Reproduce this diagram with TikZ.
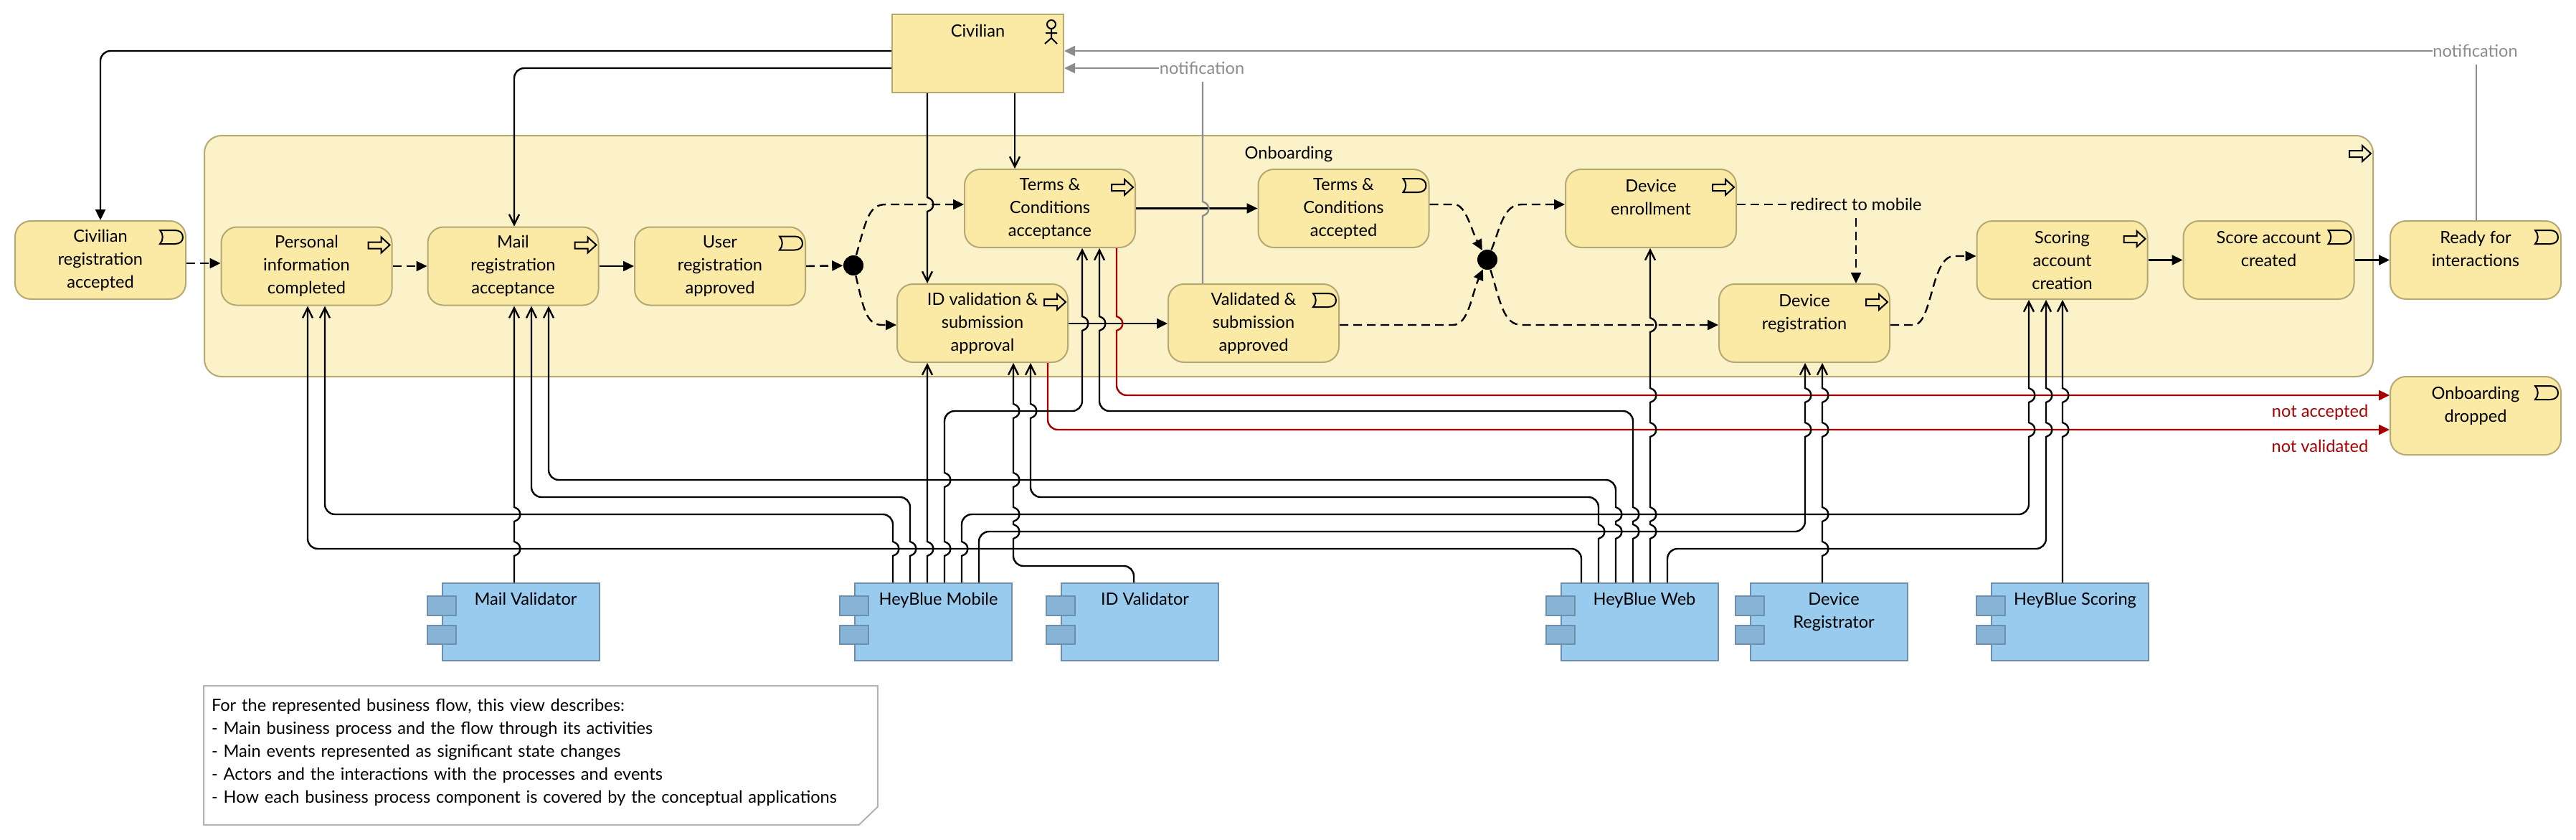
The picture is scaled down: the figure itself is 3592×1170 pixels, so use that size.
\documentclass[tikz,border=0pt]{standalone}
\usepackage{fontspec}
\setmainfont{Lato}
\usetikzlibrary{shapes.geometric, arrows.meta, positioning, calc}

\definecolor{bizfill}{HTML}{FBE9A6}
\definecolor{bizline}{HTML}{B5A873}
\definecolor{grpfill}{HTML}{FBF2C9}
\definecolor{appfill}{HTML}{98CBED}
\definecolor{appline}{HTML}{6B8FAD}
\definecolor{tabfill}{HTML}{87B3D4}
\definecolor{notifgrey}{HTML}{8C8C8C}
\definecolor{dropred}{HTML}{A80000}

% vertical line hopping over a horizontal one, going up / going down
\newcommand{\hopup}[2]{[sharp corners] -- (#1,#2+10) -- (#1+4,#2+8) .. controls (#1+10,#2+4) and (#1+10,#2-4) .. (#1+4,#2-8) -- (#1,#2-10) [rounded corners=3.5pt]}
\newcommand{\hopdn}[2]{[sharp corners] -- (#1,#2-10) -- (#1+4,#2-8) .. controls (#1+10,#2-4) and (#1+10,#2+4) .. (#1+4,#2+8) -- (#1,#2+10) [rounded corners=3.5pt]}
\newcommand{\shf}{\hspace*{3.5pt}}

\tikzset{
  procicon/.pic={
    \draw[black, line width=.5pt, line join=miter]
      (-34,22) -- (-16,22) -- (-16,15) -- (-4,26) -- (-16,37) -- (-16,31) -- (-34,31) -- cycle;
  },
  evticon/.pic={
    \draw[black, line width=.5pt]
      (-37,14) -- (-16,14) .. controls (-9,14) and (-5,18) .. (-5,24)
      .. controls (-5,29) and (-9,33) .. (-16,33) -- (-37,33)
      .. controls (-32,28) and (-32,19) .. (-37,14) -- cycle;
  },
  actoricon/.pic={
    \draw[black, line width=.5pt]
      (-18,15) circle [radius=6]
      (-18,21) -- (-18,34)
      (-26,27) -- (-10,27)
      (-27,42) -- (-18,34) -- (-10,42);
  },
  apptabs/.pic={
    \draw[appline, fill=tabfill, line width=.5pt] (-20,19) rectangle (20,46);
    \draw[appline, fill=tabfill, line width=.5pt] (-20,60) rectangle (20,86);
  },
}

\begin{document}
\begin{tikzpicture}[
  x=.25pt, y=-.25pt,
  every node/.style={font=\fontsize{5.9}{8}\selectfont},
  grp/.style={
    rectangle, rounded corners=6pt,
    draw=bizline, fill=grpfill, line width=.5pt,
    minimum width=756pt, minimum height=84pt},
  biz/.style={
    rectangle, rounded corners=5.5pt,
    draw=bizline, fill=bizfill, line width=.5pt,
    minimum width=59.5pt, minimum height=27.25pt,
    align=center, inner sep=0pt},
  actor/.style={
    rectangle,
    draw=bizline, fill=bizfill, line width=.5pt,
    minimum width=59.75pt, minimum height=27.25pt,
    align=center, inner sep=0pt},
  appl/.style={
    rectangle,
    draw=appline, fill=appfill, line width=.5pt,
    minimum width=54.75pt, minimum height=27pt,
    align=center, inner sep=0pt},
  memo/.style={
    rectangle, minimum width=234.5pt, minimum height=48pt,
    text width=229.5pt, align=left, inner sep=0pt},
  memoline/.style={draw=black!30, line width=.5pt},
  dot/.style={circle, fill=black, minimum size=7pt, inner sep=0pt},
  lbl/.style={inner sep=0pt, minimum height=9pt},
  trig/.style={
    -{Triangle[length=3.75pt,width=3.5pt]},
    draw=black, line width=.6pt, rounded corners=3.5pt},
  flow/.style={
    -{Triangle[length=3.75pt,width=3.5pt]},
    draw=black, line width=.6pt, dash pattern=on 3pt off 1.75pt},
  assign/.style={
    -{Straight Barb[length=3.5pt,width=3.5pt]},
    draw=black, line width=.6pt, rounded corners=3.5pt},
  drop/.style={
    -{Triangle[length=3.75pt,width=3.5pt]},
    draw=dropred, line width=.6pt, rounded corners=3.5pt},
  notif/.style={draw=notifgrey, line width=.6pt},
]

\useasboundingbox (0,0) rectangle (3592,1170);

\node[grp] (onboarding) at (1797,357) {};
\node[anchor=north] (onbtitle) at (1797,190) {Onboarding};
\pic at (onboarding.north east) {procicon};

\node[actor] (civilian) at (1363.5,74.5) {Civilian\\~\\~};
\pic at (civilian.north east) {actoricon};

\node[biz] (civacc)   at (140,362.5)    {Civilian\\registration\\accepted};
\node[biz] (personal) at (427.5,371)    {Personal\\information\\completed};
\node[biz] (mail)     at (715.5,371)    {Mail\\registration\\acceptance};
\node[biz] (user)     at (1004,371)     {User\\registration\\approved};
\node[biz] (terms)    at (1464,290.5)   {Terms \&\\Conditions\\acceptance};
\node[biz] (termsok)  at (1873.5,290.5) {Terms \&\\Conditions\\accepted};
\node[biz] (idval)    at (1370,450.5)   {ID validation \&\\submission\\approval};
\node[biz] (valok)    at (1748,450.5)   {Validated \&\\submission\\approved};
\node[biz] (enroll)   at (2302,290.5)   {Device\\enrollment\\~};
\node[biz] (devreg)   at (2516,450.5)   {Device\\registration\\~};
\node[biz] (scoring)  at (2875.5,362.5) {Scoring\\account\\creation};
\node[biz] (scored)   at (3163.5,362.5) {Score account\\created\\~};
\node[biz] (ready)    at (3452,362.5)   {Ready for\\interactions\\~};
\node[biz] (dropped)  at (3452,579.5)   {Onboarding\\dropped\\~};

\pic at (personal.north east) {procicon};
\pic at (mail.north east)     {procicon};
\pic at (terms.north east)    {procicon};
\pic at (idval.north east)    {procicon};
\pic at (enroll.north east)   {procicon};
\pic at (devreg.north east)   {procicon};
\pic at (scoring.north east)  {procicon};
\pic at (civacc.north east)   {evticon};
\pic at (user.north east)     {evticon};
\pic at (termsok.north east)  {evticon};
\pic at (valok.north east)    {evticon};
\pic at (scored.north east)   {evticon};
\pic at (ready.north east)    {evticon};
\pic at (dropped.north east)  {evticon};

\node[dot] (joinA) at (1190,370) {};
\node[dot] (joinB) at (2074,362) {};

\node[appl] (mailval) at (726,867)    {\shf Mail Validator\\~\\~};
\node[appl] (mobile)  at (1301.5,867) {\shf HeyBlue Mobile\\~\\~};
\node[appl] (idvalr)  at (1589.5,867) {\shf ID Validator\\~\\~};
\node[appl] (web)     at (2286,867)   {\shf HeyBlue Web\\~\\~};
\node[appl] (devregr) at (2550,867)   {\shf Device\\\shf Registrator\\~};
\node[appl] (scorer)  at (2886.5,867) {\shf HeyBlue Scoring\\~\\~};

\pic at (mailval.north west) {apptabs};
\pic at (mobile.north west)  {apptabs};
\pic at (idvalr.north west)  {apptabs};
\pic at (web.north west)     {apptabs};
\pic at (devregr.north west) {apptabs};
\pic at (scorer.north west)  {apptabs};

\node[memo] (viewnote) at (754,1053) {For the represented business flow, this view describes:\\
- Main business process and the flow through its activities\\
- Main events represented as significant state changes\\
- Actors and the interactions with the processes and events\\
- How each business process component is covered by the conceptual applications\rule[-3pt]{0pt}{0pt}};
\draw[memoline] (viewnote.south west) -- (viewnote.north west) -- (viewnote.north east)
  -- ($(viewnote.south east)+(0,-25)$) -- ($(viewnote.south east)+(-26,0)$) -- cycle;

\node[lbl, text=notifgrey] (notifA) at (1676,95)   {notification};
\node[lbl, text=notifgrey] (notifB) at (3451.5,71) {notification};
\node[lbl] (redirect) at (2588,285) {redirect to mobile};
\node[text=dropred, anchor=east, inner sep=0pt] (notacc) at (3303,575) {not accepted};
\node[text=dropred, anchor=east, inner sep=0pt] (notval) at (3303,622) {not validated};

% process flow
\draw[flow] (civacc.east |- 0,367) -- (personal.west |- 0,367);
\draw[flow] (personal.east) -- (mail.west);
\draw[trig] (mail.east) -- (user.west);
\draw[flow] (user.east) -- (joinA);
\draw[flow] (joinA) .. controls (1208,305) and (1212,285) .. (1235,285) -- (terms.west |- 0,285);
\draw[flow] (joinA) .. controls (1204,430) and (1208,453) .. (1230,453) -- (idval.west |- 0,453);
\draw[trig] (terms.east) -- (termsok.west);
\draw[trig] (idval.east |- 0,451) -- (valok.west |- 0,451);
\draw[flow] (termsok.east |- 0,285) -- (2028,285) .. controls (2044,285) and (2052,322) .. (joinB);
\draw[flow] (valok.east |- 0,453) -- (2026,453) .. controls (2048,453) and (2052,410) .. (joinB);
\draw[flow] (joinB) .. controls (2092,318) and (2096,285) .. (2122,285) -- (enroll.west |- 0,285);
\draw[flow] (joinB) .. controls (2092,420) and (2096,453) .. (2122,453) -- (devreg.west |- 0,453);
\draw[draw=black, line width=.6pt, dash pattern=on 3pt off 1.75pt] (enroll.east |- redirect) -- (redirect.west);
\draw[flow] (redirect.south) -- (redirect.south |- devreg.north);
\draw[flow] (devreg.east |- 0,453) -- (2668,453) .. controls (2695,453) and (2692,357) .. (2725,357) -- (scoring.west |- 0,357);
\draw[trig] (scoring.east) -- (scored.west);
\draw[trig] (scored.east) -- (ready.west);

% actor
\draw[trig] (civilian.west |- 0,71) -| (civacc.north);
\draw[assign] (civilian.west |- 0,95) -| (717,0 |- mail.north);
\draw[assign] (1415,0 |- civilian.south) -- (1415,0 |- terms.north);
\draw[assign] (1293,0 |- civilian.south) \hopdn{1293}{285} -- (1293,0 |- idval.north);

% notifications
\draw[notif, -{Triangle[length=3.75pt,width=3.5pt]}] (notifA.west) -- (notifA.west -| civilian.east);
\draw[notif] (1677,0 |- valok.north) \hopup{1677}{291} -- (1677,0 |- notifA.south);
\draw[notif, -{Triangle[length=3.75pt,width=3.5pt]}] (notifB.west) -- (notifB.west -| civilian.east);
\draw[notif] (3453,0 |- ready.north) -- (3453,0 |- notifB.south);

% dropped paths
\draw[drop] (1557,0 |- terms.south) \hopdn{1557}{451} -- (1557,551) -- (dropped.west |- 0,551);
\draw[drop] (1461,0 |- idval.south) -- (1461,599) -- (dropped.west |- 0,599);

% application assignments
\draw[assign] (717,0 |- mailval.north) \hopup{717}{765} \hopup{717}{717} -- (717,0 |- mail.south);

\draw[assign] (1245,0 |- mobile.north) \hopup{1245}{765} -- (1245,717) -- (453,717) -- (453,0 |- personal.south);
\draw[assign] (1269,0 |- mobile.north) \hopup{1269}{765} -- (1269,693) -- (741,693) -- (741,0 |- mail.south);
\draw[assign] (1293,0 |- mobile.north) \hopup{1293}{765} -- (1293,0 |- idval.south);
\draw[assign] (1317,0 |- mobile.north) \hopup{1317}{765} \hopup{1317}{669} -- (1317,573) -- (1509,573) \hopup{1509}{451} -- (1509,0 |- terms.south);
\draw[assign] (1341,0 |- mobile.north) \hopup{1341}{765} -- (1341,717) -- (2829,717) \hopup{2829}{599} \hopup{2829}{551} -- (2829,0 |- scoring.south);
\draw[assign] (1365,0 |- mobile.north) -- (1365,741) -- (2517,741) \hopup{2517}{599} \hopup{2517}{551} -- (2517,0 |- devreg.south);

\draw[assign] (1581,0 |- idvalr.north) -- (1581,789) -- (1413,789) \hopup{1413}{741} \hopup{1413}{717} \hopup{1413}{669} \hopup{1413}{573} -- (1413,0 |- idval.south);

\draw[assign] (2205,0 |- web.north) -- (2205,765) -- (429,765) -- (429,0 |- personal.south);
\draw[assign] (2229,0 |- web.north) \hopup{2229}{741} -- (2229,693) -- (1437,693) \hopup{1437}{573} -- (1437,0 |- idval.south);
\draw[assign] (2253,0 |- web.north) \hopup{2253}{741} \hopup{2253}{717} -- (2253,669) -- (765,669) -- (765,0 |- mail.south);
\draw[assign] (2277,0 |- web.north) \hopup{2277}{741} \hopup{2277}{717} -- (2277,573) -- (1533,573) \hopup{1533}{451} -- (1533,0 |- terms.south);
\draw[assign] (2301,0 |- web.north) \hopup{2301}{741} \hopup{2301}{717} \hopup{2301}{599} \hopup{2301}{551} \hopup{2301}{453} -- (2301,0 |- enroll.south);
\draw[assign] (2325,0 |- web.north) -- (2325,765) -- (2853,765) \hopup{2853}{599} \hopup{2853}{551} -- (2853,0 |- scoring.south);

\draw[assign] (2541,0 |- devregr.north) \hopup{2541}{765} \hopup{2541}{717} \hopup{2541}{599} \hopup{2541}{551} -- (2541,0 |- devreg.south);
\draw[assign] (2876,0 |- scorer.north) \hopup{2876}{599} \hopup{2876}{551} -- (2876,0 |- scoring.south);

\end{tikzpicture}
\end{document}
